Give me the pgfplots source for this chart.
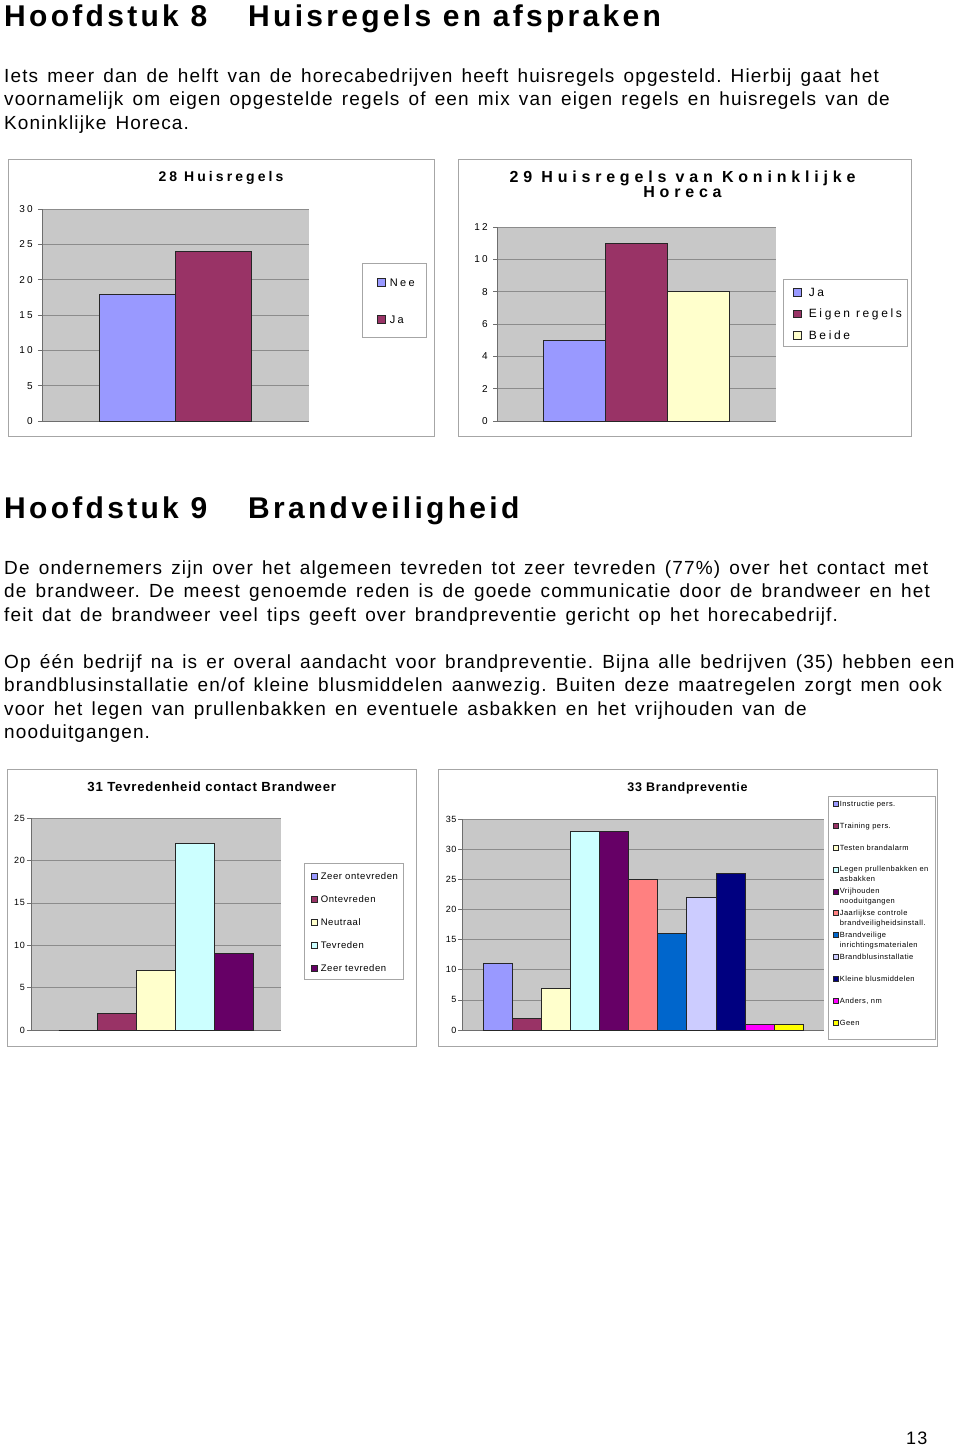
\documentclass[border=0pt]{standalone}
\usepackage{fontspec}
\setmainfont{Liberation Sans}
\usepackage{pgfplots}
\pgfplotsset{compat=1.18}
\newfontfamily\bodyfont{Liberation Sans}[LetterSpace=6]
\newfontfamily\headfont{Liberation Sans}[LetterSpace=11]
\newfontfamily\wideA{Liberation Sans}[LetterSpace=22]
\newfontfamily\wideT{Liberation Sans}[LetterSpace=30]
\newfontfamily\wideB{Liberation Sans}[LetterSpace=6]
\newcommand\bodysize{\bodyfont\fontsize{19}{23}\selectfont\frenchspacing\spaceskip=9.2pt plus 1pt\relax}
\newcommand\headsize{\headfont\bfseries\fontsize{30}{36}\selectfont}
\newcommand\titleA{\wideA\bfseries\fontsize{14}{16}\selectfont}
\newcommand\titleAA{\wideT\bfseries\fontsize{16}{18}\selectfont}
\newcommand\tickA{\wideA\fontsize{10}{12}\selectfont}
\newcommand\legA{\wideA\fontsize{11}{13}\selectfont}
\newcommand\legAA{\wideA\fontsize{12}{14}\selectfont}
\newcommand\titleB{\wideB\bfseries\fontsize{12.5}{15}\selectfont}
\newcommand\titleBB{\wideB\bfseries\fontsize{13.2}{15}\selectfont}
\newcommand\tickB{\wideB\fontsize{9}{11}\selectfont}
\newcommand\legC{\wideB\fontsize{9.5}{11}\selectfont}
\newcommand\legD{\wideB\fontsize{7.5}{10}\selectfont}
\newcommand\two[2]{\vtop{\baselineskip=10pt\hbox{#1}\hbox{#2}}}
\definecolor{cBlue}{HTML}{9999FF}
\definecolor{cPlum}{HTML}{993366}
\definecolor{cIvory}{HTML}{FFFFCC}
\definecolor{cCyan}{HTML}{CCFFFF}
\definecolor{cPurple}{HTML}{660066}
\definecolor{cCoral}{HTML}{FF8080}
\definecolor{cOcean}{HTML}{0066CC}
\definecolor{cIce}{HTML}{CCCCFF}
\definecolor{cNavy}{HTML}{000080}
\definecolor{cPink}{HTML}{FF00FF}
\definecolor{cYellow}{HTML}{FFFF00}
\definecolor{plotbg}{HTML}{C8C8C8}
\definecolor{gridc}{HTML}{8C8C8C}
\definecolor{framec}{HTML}{A6A6A6}
\definecolor{axisc}{HTML}{6E6E6E}
\pgfplotsset{
  xlchart/.style={
    scale only axis, anchor=south west,
    ybar, bar shift=0pt,
    ymin=0, xtick=\empty,
    axis x line*=bottom, axis y line*=left,
    axis line style={-, draw=axisc, line width=0.6pt},
    axis background/.style={fill=plotbg},
    ymajorgrids, major grid style={draw=gridc, line width=0.6pt},
    tick align=outside, major tick length=4pt,
    ytick style={draw=axisc, line width=0.6pt},
    /pgf/number format/assume math mode=true,
    yticklabel style={inner sep=0pt, xshift=-5pt},
    legend cell align=left,
    legend style={draw=none, fill=none, inner sep=0pt, anchor=north west, legend columns=1,
       nodes={inner sep=0pt, anchor=base west}},
    every axis plot/.append style={draw=black!85, line width=0.6pt},
    clip=false,
  }
}
\begin{document}
\begin{tikzpicture}
\fill[white] (0pt,0pt) rectangle (960pt,-1447pt);
\useasboundingbox (0pt,0pt) rectangle (960pt,-1447pt);
% ---------- text ----------
\node[anchor=base west, inner sep=0pt] at (4pt,-27pt) {\headsize Hoofdstuk 8};
\node[anchor=base west, inner sep=0pt] at (248pt,-27pt) {\headsize Huisregels en afspraken};
\node[anchor=base west, inner sep=0pt] at (4pt,-83pt) {\bodysize Iets meer dan de helft van de horecabedrijven heeft huisregels opgesteld. Hierbij gaat het};
\node[anchor=base west, inner sep=0pt] at (4pt,-106pt) {\bodysize voornamelijk om eigen opgestelde regels of een mix van eigen regels en huisregels van de};
\node[anchor=base west, inner sep=0pt] at (4pt,-129.5pt) {\bodysize Koninklijke Horeca.};
\node[anchor=base west, inner sep=0pt] at (4pt,-518pt) {\headsize Hoofdstuk 9};
\node[anchor=base west, inner sep=0pt] at (248pt,-518pt) {\headsize Brandveiligheid};
\node[anchor=base west, inner sep=0pt] at (4pt,-574pt) {\bodysize De ondernemers zijn over het algemeen tevreden tot zeer tevreden (77\%) over het contact met};
\node[anchor=base west, inner sep=0pt] at (4pt,-597.5pt) {\bodysize de brandweer. De meest genoemde reden is de goede communicatie door de brandweer en het};
\node[anchor=base west, inner sep=0pt] at (4pt,-621pt) {\bodysize feit dat de brandweer veel tips geeft over brandpreventie gericht op het horecabedrijf.};
\node[anchor=base west, inner sep=0pt] at (4pt,-668pt) {\bodysize Op één bedrijf na is er overal aandacht voor brandpreventie. Bijna alle bedrijven (35) hebben een};
\node[anchor=base west, inner sep=0pt] at (4pt,-691.5pt) {\bodysize brandblusinstallatie en/of kleine blusmiddelen aanwezig. Buiten deze maatregelen zorgt men ook};
\node[anchor=base west, inner sep=0pt] at (4pt,-715pt) {\bodysize voor het legen van prullenbakken en eventuele asbakken en het vrijhouden van de};
\node[anchor=base west, inner sep=0pt] at (4pt,-738.5pt) {\bodysize nooduitgangen.};
\node[anchor=base west, inner sep=0pt] at (906pt,-1444pt) {\bodyfont\fontsize{18}{22}\selectfont 13};
% ---------- frames ----------
\draw[framec, line width=0.8pt] (8pt,-159pt) rectangle (434pt,-436pt);
\draw[framec, line width=0.8pt] (458pt,-159pt) rectangle (911pt,-436pt);
\draw[framec, line width=0.8pt] (7pt,-769pt) rectangle (416pt,-1046pt);
\draw[framec, line width=0.8pt] (438pt,-769pt) rectangle (937pt,-1046pt);
\draw[framec, line width=0.6pt] (362pt,-263pt) rectangle (426pt,-337pt);
\draw[framec, line width=0.6pt] (783pt,-279pt) rectangle (907pt,-346pt);
\draw[framec, line width=0.6pt] (304pt,-863pt) rectangle (403pt,-979pt);
\draw[framec, line width=0.6pt] (828pt,-796pt) rectangle (935pt,-1039pt);
% ---------- titles ----------
\node[anchor=base, inner sep=0pt] at (221pt,-182pt) {\titleA 28 Huisregels};
\node[anchor=base, inner sep=0pt] at (682.5pt,-182.3pt) {\titleAA 29 Huisregels van Koninklijke};
\node[anchor=base, inner sep=0pt] at (682.5pt,-198pt) {\titleAA Horeca};
\node[anchor=base, inner sep=0pt] at (211.7pt,-791pt) {\titleBB 31 Tevredenheid contact Brandweer};
\node[anchor=base, inner sep=0pt] at (687.5pt,-791pt) {\titleB 33 Brandpreventie};
% ---------- chart 28 ----------
\begin{axis}[xlchart, at={(42pt,-421pt)}, width=267pt, height=212pt,
  xmin=0, xmax=267, ymax=30, ytick={0,5,...,30},
  yticklabel style={font=\tickA},
  legend image code/.code={\draw[#1] (0pt,0pt) rectangle (7.5pt,7.5pt); \path (12pt,0pt);},
  legend style={at={(1.2547,0.6745)}, font=\legA, nodes={text height=8pt, text depth=4pt}, row sep=25pt},
]
\addplot[fill=cBlue, bar width=76] coordinates {(95,18)};
\addplot[fill=cPlum, bar width=76] coordinates {(171,24)};
\legend{Nee, Ja}
\end{axis}
% ---------- chart 29 ----------
\begin{axis}[xlchart, at={(497pt,-421pt)}, width=279pt, height=194pt,
  xmin=0, xmax=279, ymax=12, ytick={0,2,...,12},
  yticklabel style={font=\tickA},
  legend image code/.code={\draw[#1] (0pt,0pt) rectangle (7.5pt,7.5pt); \path (15pt,0pt);},
  legend style={at={(1.0609,0.6856)}, font=\legAA, nodes={text height=8pt, text depth=4pt}, row sep=9.5pt},
]
\addplot[fill=cBlue, bar width=62] coordinates {(77,5)};
\addplot[fill=cPlum, bar width=62] coordinates {(139,11)};
\addplot[fill=cIvory, bar width=62] coordinates {(201,8)};
\legend{Ja, Eigen regels, Beide}
\end{axis}
% ---------- chart 31 ----------
\begin{axis}[xlchart, at={(31pt,-1030pt)}, width=250pt, height=212pt,
  xmin=0, xmax=250, ymax=25, ytick={0,5,...,25},
  yticklabel style={font=\tickB, xshift=3pt},
  legend image code/.code={\draw[#1] (0pt,0pt) rectangle (6pt,6pt); \path (9pt,0pt);},
  legend style={at={(1.12,0.743)}, font=\legC, nodes={text height=7pt, text depth=3pt}, row sep=13pt},
]
\addplot[fill=cBlue, bar width=38.8] coordinates {(47.2,0)};
\addplot[fill=cPlum, bar width=38.8] coordinates {(86,2)};
\addplot[fill=cIvory, bar width=38.8] coordinates {(124.8,7)};
\addplot[fill=cCyan, bar width=38.8] coordinates {(163.6,22)};
\addplot[fill=cPurple, bar width=38.8] coordinates {(202.4,9)};
\legend{Zeer ontevreden, Ontevreden, Neutraal, Tevreden, Zeer tevreden}
\end{axis}
% ---------- chart 33 ----------
\begin{axis}[xlchart, at={(462pt,-1030pt)}, width=362pt, height=211pt,
  xmin=0, xmax=362, ymax=35, ytick={0,5,...,35},
  yticklabel style={font=\tickB, xshift=3.5pt},
  legend image code/.code={\draw[#1] (0pt,0pt) rectangle (5pt,5pt); \path (6pt,0pt);},
  legend style={at={(1.0249,1.090)}, font=\legD, nodes={text height=6pt, text depth=12pt}, row sep=3.9pt},
]
\addplot[fill=cBlue, bar width=29.1] coordinates {(35.55,11)};
\addplot[fill=cPlum, bar width=29.1] coordinates {(64.65,2)};
\addplot[fill=cIvory, bar width=29.1] coordinates {(93.75,7)};
\addplot[fill=cCyan, bar width=29.1] coordinates {(122.85,33)};
\addplot[fill=cPurple, bar width=29.1] coordinates {(151.95,33)};
\addplot[fill=cCoral, bar width=29.1] coordinates {(181.05,25)};
\addplot[fill=cOcean, bar width=29.1] coordinates {(210.15,16)};
\addplot[fill=cIce, bar width=29.1] coordinates {(239.25,22)};
\addplot[fill=cNavy, bar width=29.1] coordinates {(268.35,26)};
\addplot[fill=cPink, bar width=29.1] coordinates {(297.45,1)};
\addplot[fill=cYellow, bar width=29.1] coordinates {(326.55,1)};
\legend{Instructie pers., Training pers., Testen brandalarm, \two{Legen prullenbakken en}{asbakken}, \two{Vrijhouden}{nooduitgangen}, \two{Jaarlijkse controle}{brandveiligheidsinstall.}, \two{Brandveilige}{inrichtingsmaterialen}, Brandblusinstallatie, Kleine blusmiddelen, {Anders, nm}, Geen}
\end{axis}
\end{tikzpicture}
\end{document}
